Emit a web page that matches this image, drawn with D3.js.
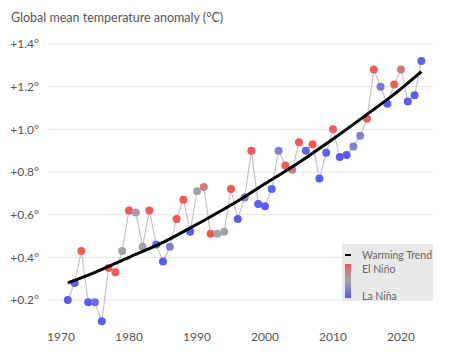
<!DOCTYPE html>
<html>
<head>
<meta charset="utf-8">
<script src="https://cdn.jsdelivr.net/npm/d3@7"></script>
<style>
  html, body { margin: 0; padding: 0; background: #fff; }
  svg { display: block; font-family: Lato, "Open Sans", sans-serif; }
</style>
</head>
<body>
<svg id="chart" width="474" height="352"></svg>
<script>
const years = d3.range(1971, 2024);
const anomalies = [
  0.20, 0.28, 0.43, 0.19, 0.19, 0.10, 0.35, 0.33, 0.43, 0.62,
  0.61, 0.45, 0.62, 0.46, 0.38, 0.45, 0.58, 0.67, 0.52, 0.71,
  0.73, 0.51, 0.51, 0.52, 0.72, 0.58, 0.68, 0.90, 0.65, 0.64,
  0.72, 0.90, 0.83, 0.81, 0.94, 0.90, 0.93, 0.77, 0.89, 1.00,
  0.87, 0.88, 0.92, 0.97, 1.05, 1.28, 1.20, 1.12, 1.21, 1.28,
  1.13, 1.16, 1.32
];
// ENSO state: +1 El Niño (red), 0 neutral (grey), -1 La Niña (blue)
const enso = [
  -1, -1, 1, -1, -0.7, -1, 0.9, 1, 0, 1,
  0.05, 0, 1, -0.8, -1, -0.5, 1, 1, -1, 0,
  0.5, 1, 0, 0, 1, -1, -0.5, 1, -1, -1,
  -0.9, -0.5, 1, 0.5, 1, -0.9, 1, -1, -0.9, 1,
  -1, -1, -0.5, -0.5, 0.9, 1, -0.6, -1, 1, 0.5,
  -1, -1, -0.9
];
const trendYears = [1971, 1975, 1980, 1985, 1990, 1995, 2000, 2005, 2010, 2015, 2020, 2023];
const trendValues = [0.28, 0.33, 0.40, 0.47, 0.555, 0.645, 0.745, 0.845, 0.955, 1.07, 1.19, 1.27];
const yTicks = [0.2, 0.4, 0.6, 0.8, 1.0, 1.2, 1.4];
const xTicks = [1970, 1980, 1990, 2000, 2010, 2020];

const svg = d3.select("#chart");
const x = d3.scaleLinear().domain([1970, 2020]).range([61, 401]);
const y = d3.scaleLinear().domain([0.2, 1.4]).range([300, 44]);
const color = d3.scaleLinear().domain([-1, 0, 1])
  .range(["#5b5bf0", "#a3a3a3", "#f05a5a"]).interpolate(d3.interpolateRgb);

svg.append("text").attr("x", 11).attr("y", 22)
  .attr("font-size", 12.5).attr("fill", "#555")
  .text("Global mean temperature anomaly (°C)");

// grid
const gy = svg.append("g");
gy.selectAll("line").data(yTicks).join("line")
  .attr("x1", 48).attr("x2", 433)
  .attr("y1", d => y(d)).attr("y2", d => y(d))
  .attr("stroke", "#e6e6e6").attr("stroke-width", 1);
gy.selectAll("text").data(yTicks).join("text")
  .attr("x", 39).attr("y", d => y(d)).attr("dy", "0.35em")
  .attr("text-anchor", "end").attr("font-size", 12).attr("fill", "#555")
  .text(d => "+" + d3.format(".1f")(d) + "°");

// x axis labels
svg.append("g").selectAll("text").data(xTicks).join("text")
  .attr("x", d => x(d)).attr("y", 341)
  .attr("text-anchor", "middle").attr("font-size", 12).attr("fill", "#555")
  .text(d => d);

const pts = years.map((yr, i) => ({ yr, v: anomalies[i], e: enso[i] }));

// connecting line
svg.append("path").datum(pts)
  .attr("fill", "none").attr("stroke", "#c4c4c4").attr("stroke-width", 1.2)
  .attr("d", d3.line().x(d => x(d.yr)).y(d => y(d.v)));

// dots
svg.append("g").selectAll("circle").data(pts).join("circle")
  .attr("cx", d => x(d.yr)).attr("cy", d => y(d.v)).attr("r", 4)
  .attr("fill", d => color(d.e));

// trend
const trend = trendYears.map((yr, i) => ({ yr, v: trendValues[i] }));
svg.append("path").datum(trend)
  .attr("fill", "none").attr("stroke", "#000").attr("stroke-width", 3)
  .attr("d", d3.line().curve(d3.curveMonotoneX).x(d => x(d.yr)).y(d => y(d.v)));

// legend
const lg = svg.append("g");
lg.append("rect").attr("x", 342).attr("y", 244).attr("width", 91).attr("height", 57)
  .attr("fill", "#e9e9eb");
lg.append("line").attr("x1", 345).attr("x2", 351).attr("y1", 255).attr("y2", 255)
  .attr("stroke", "#000").attr("stroke-width", 2);
const defs = svg.append("defs");
const grad = defs.append("linearGradient").attr("id", "enso").attr("x1", 0).attr("x2", 0).attr("y1", 0).attr("y2", 1);
grad.append("stop").attr("offset", "0%").attr("stop-color", color(1));
grad.append("stop").attr("offset", "50%").attr("stop-color", color(0));
grad.append("stop").attr("offset", "100%").attr("stop-color", color(-1));
lg.append("rect").attr("x", 345).attr("y", 264).attr("width", 6).attr("height", 34)
  .attr("fill", "url(#enso)");
const legendItems = [["Warming Trend", 255], ["El Niño", 269], ["La Niña", 296]];
lg.selectAll("text.l").data(legendItems).join("text")
  .attr("x", 362).attr("y", d => d[1]).attr("dy", "0.35em")
  .attr("font-size", 10.5).attr("fill", "#666").text(d => d[0]);
</script>
</body>
</html>
